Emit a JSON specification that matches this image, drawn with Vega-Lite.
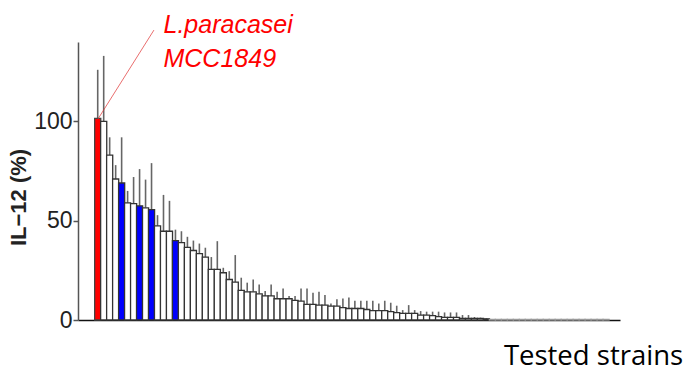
{
  "$schema": "https://vega.github.io/schema/vega-lite/v6.json",
  "autosize": {"type": "none"},
  "padding": {"left": 78, "top": 42, "right": 75, "bottom": 51},
  "width": 542,
  "height": 278,
  "background": "white",
  "config": {"view": {"stroke": null}},
  "datasets": {
    "strains": [
      {"rank": 1, "v": 101.5, "e": 126, "g": "red"},
      {"rank": 2, "v": 100, "e": 133, "g": "white"},
      {"rank": 3, "v": 83, "e": 92, "g": "white"},
      {"rank": 4, "v": 71, "e": 78, "g": "white"},
      {"rank": 5, "v": 69, "e": 92, "g": "blue"},
      {"rank": 6, "v": 59, "e": 65, "g": "white"},
      {"rank": 7, "v": 58.6, "e": 72, "g": "white"},
      {"rank": 8, "v": 57.5, "e": 76, "g": "blue"},
      {"rank": 9, "v": 56.5, "e": 70.7, "g": "white"},
      {"rank": 10, "v": 55.6, "e": 79, "g": "blue"},
      {"rank": 11, "v": 47.4, "e": 52.8, "g": "white"},
      {"rank": 12, "v": 44.7, "e": 63, "g": "white"},
      {"rank": 13, "v": 44.7, "e": 60, "g": "white"},
      {"rank": 14, "v": 40, "e": 45.5, "g": "blue"},
      {"rank": 15, "v": 39, "e": 44.7, "g": "white"},
      {"rank": 16, "v": 36.6, "e": 41.9, "g": "white"},
      {"rank": 17, "v": 35, "e": 40, "g": "white"},
      {"rank": 18, "v": 33.4, "e": 38.5, "g": "white"},
      {"rank": 19, "v": 31.7, "e": 36.4, "g": "white"},
      {"rank": 20, "v": 25.5, "e": 31.7, "g": "white"},
      {"rank": 21, "v": 25.5, "e": 39.7, "g": "white"},
      {"rank": 22, "v": 23.8, "e": 26.3, "g": "white"},
      {"rank": 23, "v": 20.4, "e": 24.6, "g": "white"},
      {"rank": 24, "v": 19.1, "e": 32.7, "g": "white"},
      {"rank": 25, "v": 14.9, "e": 21.3, "g": "white"},
      {"rank": 26, "v": 14.2, "e": 18.8, "g": "white"},
      {"rank": 27, "v": 14.2, "e": 20.4, "g": "white"},
      {"rank": 28, "v": 13.2, "e": 17.9, "g": "white"},
      {"rank": 29, "v": 12.1, "e": 14.6, "g": "white"},
      {"rank": 30, "v": 12.1, "e": 17.9, "g": "white"},
      {"rank": 31, "v": 10.7, "e": 14.2, "g": "white"},
      {"rank": 32, "v": 10.7, "e": 15.9, "g": "white"},
      {"rank": 33, "v": 10.7, "e": 12.1, "g": "white"},
      {"rank": 34, "v": 9.9, "e": 12.1, "g": "white"},
      {"rank": 35, "v": 9.5, "e": 15.9, "g": "white"},
      {"rank": 36, "v": 7.9, "e": 15.9, "g": "white"},
      {"rank": 37, "v": 7.9, "e": 13.7, "g": "white"},
      {"rank": 38, "v": 7.5, "e": 14.2, "g": "white"},
      {"rank": 39, "v": 7.5, "e": 12.6, "g": "white"},
      {"rank": 40, "v": 7.0, "e": 8.3, "g": "white"},
      {"rank": 41, "v": 7.0, "e": 10.5, "g": "white"},
      {"rank": 42, "v": 6.2, "e": 10.8, "g": "white"},
      {"rank": 43, "v": 5.8, "e": 11.3, "g": "white"},
      {"rank": 44, "v": 5.8, "e": 9.7, "g": "white"},
      {"rank": 45, "v": 5.8, "e": 9.7, "g": "white"},
      {"rank": 46, "v": 5.3, "e": 9.7, "g": "white"},
      {"rank": 47, "v": 4.7, "e": 9.7, "g": "white"},
      {"rank": 48, "v": 4.7, "e": 8.3, "g": "white"},
      {"rank": 49, "v": 4.7, "e": 9.7, "g": "white"},
      {"rank": 50, "v": 4.2, "e": 8.7, "g": "white"},
      {"rank": 51, "v": 3.7, "e": 7.2, "g": "white"},
      {"rank": 52, "v": 3.3, "e": 5, "g": "white"},
      {"rank": 53, "v": 3.3, "e": 7.5, "g": "white"},
      {"rank": 54, "v": 3.3, "e": 5, "g": "white"},
      {"rank": 55, "v": 2.5, "e": 4.5, "g": "white"},
      {"rank": 56, "v": 2.5, "e": 4.2, "g": "white"},
      {"rank": 57, "v": 2.2, "e": 4.2, "g": "white"},
      {"rank": 58, "v": 1.7, "e": 4.2, "g": "white"},
      {"rank": 59, "v": 1.3, "e": 3.8, "g": "white"},
      {"rank": 60, "v": 1.3, "e": 3.8, "g": "white"},
      {"rank": 61, "v": 1.3, "e": 3.8, "g": "white"},
      {"rank": 62, "v": 0.8, "e": 2.5, "g": "white"},
      {"rank": 63, "v": 0.8, "e": 2.5, "g": "white"},
      {"rank": 64, "v": 0.8, "e": 1.5, "g": "white"},
      {"rank": 65, "v": 0.8, "e": 1.2, "g": "white"},
      {"rank": 66, "v": 0.6, "e": 1.0, "g": "white"},
      {"rank": 67, "v": 0.3, "g": "zero"},
      {"rank": 68, "v": 0.3, "g": "zero"},
      {"rank": 69, "v": 0.3, "g": "zero"},
      {"rank": 70, "v": 0.3, "g": "zero"},
      {"rank": 71, "v": 0.3, "g": "zero"},
      {"rank": 72, "v": 0.3, "g": "zero"},
      {"rank": 73, "v": 0.3, "g": "zero"},
      {"rank": 74, "v": 0.3, "g": "zero"},
      {"rank": 75, "v": 0.3, "g": "zero"},
      {"rank": 76, "v": 0.3, "g": "zero"},
      {"rank": 77, "v": 0.3, "g": "zero"},
      {"rank": 78, "v": 0.3, "g": "zero"},
      {"rank": 79, "v": 0.3, "g": "zero"},
      {"rank": 80, "v": 0.3, "g": "zero"},
      {"rank": 81, "v": 0.3, "g": "zero"},
      {"rank": 82, "v": 0.3, "g": "zero"},
      {"rank": 83, "v": 0.3, "g": "zero"},
      {"rank": 84, "v": 0.3, "g": "zero"},
      {"rank": 85, "v": 0.3, "g": "zero"},
      {"rank": 86, "v": 0.3, "g": "zero"}
    ],
    "label": [
      {"rank": 12, "v": 144.5, "t": "L.paracasei"},
      {"rank": 12, "v": 127.4, "t": "MCC1849"}
    ],
    "leader": [
      {"rank": 1, "v": 101, "rank2": 10.4, "v2": 146}
    ]
  },
  "layer": [
    {
      "data": {"name": "strains"},
      "transform": [{"filter": "isValid(datum.e)"}],
      "mark": {"type": "rule", "color": "#666666", "strokeWidth": 1.6},
      "encoding": {
        "x": {"field": "rank", "type": "quantitative", "scale": {"domain": [-1.46, 87.5], "nice": false, "zero": false},
              "axis": {"labels": false, "ticks": false, "grid": false, "domain": true, "domainColor": "#111111", "domainWidth": 1.5,
                       "title": "Tested strains", "titleFont": "Open Sans", "titleFontSize": 27.5, "titleFontWeight": "normal", "titleColor": "#000000",
                       "titleX": 515, "titleY": 44, "titleBaseline": "alphabetic", "titleAlign": "center"}},
        "y": {"field": "v", "type": "quantitative", "scale": {"domain": [0, 140], "nice": false},
              "axis": {"values": [0, 50, 100], "grid": false, "domainColor": "#555555", "domainWidth": 1.5, "tickColor": "#555555", "tickWidth": 1.5, "tickSize": 5,
                       "labelFont": "Liberation Sans", "labelFontSize": 23, "labelColor": "#222222", "labelPadding": 1,
                       "title": "IL−12  (%)", "titleFont": "Liberation Sans", "titleFontSize": 22, "titleFontWeight": "bold", "titleColor": "#222222",
                       "titleAngle": -90, "titleX": -53, "titleY": 155, "titleAlign": "center", "titleBaseline": "alphabetic"}},
        "y2": {"field": "e"}
      }
    },
    {
      "data": {"name": "strains"},
      "mark": {"type": "bar", "width": 6.1, "strokeWidth": 1.3},
      "encoding": {
        "x": {"field": "rank", "type": "quantitative"},
        "y": {"field": "v", "type": "quantitative"},
        "fill": {"field": "g", "type": "nominal", "scale": {"domain": ["red", "blue", "white", "zero"], "range": ["#ff0000", "#0000ff", "#ffffff", "#ffffff"]}, "legend": null},
        "stroke": {"field": "g", "type": "nominal", "scale": {"domain": ["red", "blue", "white", "zero"], "range": ["#444444", "#333333", "#333333", "#9a9a9a"]}, "legend": null}
      }
    },
    {
      "data": {"name": "leader"},
      "mark": {"type": "rule", "color": "#e03030", "strokeWidth": 1, "opacity": 0.7, "clip": false},
      "encoding": {
        "x": {"field": "rank", "type": "quantitative"},
        "y": {"field": "v", "type": "quantitative"},
        "x2": {"field": "rank2"},
        "y2": {"field": "v2"}
      }
    },
    {
      "data": {"name": "label"},
      "mark": {"type": "text", "align": "left", "baseline": "alphabetic", "font": "Liberation Sans", "fontSize": 25, "fontStyle": "italic", "color": "#ff0000", "clip": false},
      "encoding": {
        "x": {"field": "rank", "type": "quantitative"},
        "y": {"field": "v", "type": "quantitative"},
        "text": {"field": "t"}
      }
    }
  ]
}
